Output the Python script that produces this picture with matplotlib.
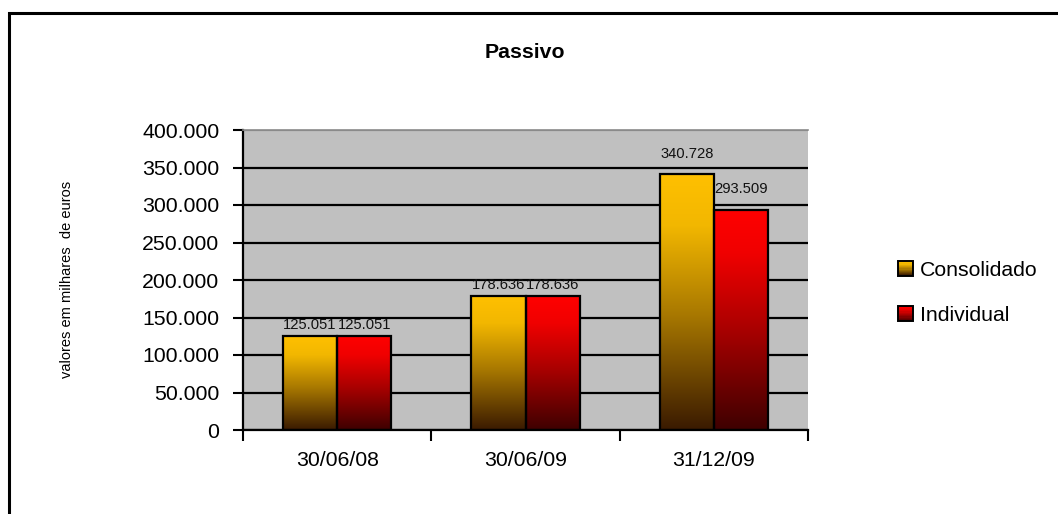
import numpy as np
import matplotlib
matplotlib.use('Agg')
import matplotlib.pyplot as plt
from matplotlib.colors import LinearSegmentedColormap
from matplotlib.patches import Rectangle
from matplotlib.legend_handler import HandlerBase

# Balance sheet liabilities (thousands of euros)
categories = ['30/06/08', '30/06/09', '31/12/09']
series_names = ['Consolidado', 'Individual']
consolidado = [125051, 178636, 340728]
individual = [125051, 178636, 293509]
y_ticks = [0, 50000, 100000, 150000, 200000, 250000, 300000, 350000, 400000]

FONT = ['Liberation Sans', 'DejaVu Sans']
plt.rcParams['font.family'] = FONT


def pt(v):
    return f"{v:,.0f}".replace(',', '.')


cmap_cons = LinearSegmentedColormap.from_list(
    'cons', [(0.0, '#3A1A00'), (0.45, '#A87800'), (0.8, '#F2B700'), (1.0, '#FFC000')])
cmap_ind = LinearSegmentedColormap.from_list(
    'ind', [(0.0, '#3E0000'), (0.45, '#A80000'), (0.8, '#F00000'), (1.0, '#FF0000')])

W, H = 1058, 514
fig = plt.figure(figsize=(W / 100, H / 100), dpi=100)
ax = fig.add_axes([243 / W, 1 - 430 / H, 565 / W, 300 / H])
ax.set_facecolor('#C0C0C0')

x = np.arange(len(categories))
bw = 0.2875
grad = np.linspace(0, 1, 256).reshape(-1, 1)

for offset, vals, cmap in [(-bw / 2, consolidado, cmap_cons), (bw / 2, individual, cmap_ind)]:
    bars = ax.bar(x + offset, vals, bw, facecolor='none', edgecolor='black',
                  linewidth=1.6, zorder=3)
    for b, v in zip(bars, vals):
        x0, w, h = b.get_x(), b.get_width(), b.get_height()
        im = ax.imshow(grad, cmap=cmap, origin='lower', aspect='auto',
                       extent=[x0, x0 + w, 0, h], zorder=2.5, interpolation='bilinear')
        im.set_clip_path(b)
        # value labels sit higher above the tall bars
        lift = 10 if h > 250000 else 3
        ax.annotate(pt(v), (x0 + w / 2, h), xytext=(0, lift), textcoords='offset points',
                    ha='center', va='bottom', fontsize=10.6, color='#111111', zorder=4)

ax.set_xlim(-0.5, len(categories) - 0.5)
ax.set_ylim(0, 400000)
ax.set_yticks(y_ticks)
ax.set_yticklabels([pt(v) for v in y_ticks], fontsize=15.3)
ax.set_xticks(x)
ax.set_xticklabels(categories, fontsize=15.3)
ax.set_xticks(np.arange(len(categories) + 1) - 0.5, minor=True)
ax.tick_params(axis='x', which='major', length=0, pad=15)
ax.tick_params(axis='x', which='minor', length=8, width=1.5, color='black', direction='out')
ax.tick_params(axis='y', length=7, width=1.5, color='black', direction='out', pad=10)

ax.yaxis.grid(True, color='black', linewidth=1.6, zorder=1)
ax.set_axisbelow(True)
ax.yaxis.get_gridlines()[-1].set_color('#8A8A8A')
ax.spines['right'].set_visible(False)
ax.spines['top'].set_color('#8A8A8A')
ax.spines['top'].set_linewidth(1.2)
ax.spines['left'].set_linewidth(1.6)
ax.spines['bottom'].set_linewidth(1.6)

fig.text(67 / W, 1 - 279 / H, 'valores em milhares  de euros', rotation=90,
         ha='center', va='center', fontsize=10.5)
fig.text(525 / W, 1 - 52 / H, 'Passivo', ha='center', va='center',
         fontsize=15.3, fontweight='bold')

# chart frame
fig.add_artist(Rectangle((9 / W, -0.2), 1.5, 1.2 - 13 / H, transform=fig.transFigure,
                         fill=False, edgecolor='black', linewidth=2.2))


class GradientSquare(HandlerBase):
    def __init__(self, cmap):
        super().__init__()
        self.cmap = cmap

    def create_artists(self, legend, orig_handle, xdescent, ydescent, width, height,
                       fontsize, trans):
        s = min(width, height)
        x0 = -xdescent + (width - s) / 2
        y0 = -ydescent + (height - s) / 2
        n = 12
        arts = []
        for i in range(n):
            c = self.cmap((i + 0.5) / n)
            arts.append(Rectangle((x0, y0 + s * i / n), s, s / n, facecolor=c,
                                  edgecolor='none', transform=trans))
        arts.append(Rectangle((x0, y0), s, s, facecolor='none', edgecolor='black',
                              linewidth=1.4, transform=trans))
        return arts


h1 = Rectangle((0, 0), 1, 1)
h2 = Rectangle((0, 0), 1, 1)
fig.legend([h1, h2], series_names, loc='center left',
           bbox_to_anchor=(898 / W, 1 - 293 / H), frameon=False, fontsize=15.3,
           handlelength=0.7, handleheight=0.7, handletextpad=0.35,
           labelspacing=1.25, borderpad=0, borderaxespad=0,
           handler_map={h1: GradientSquare(cmap_cons), h2: GradientSquare(cmap_ind)})

fig.savefig('out.png', dpi=100)
